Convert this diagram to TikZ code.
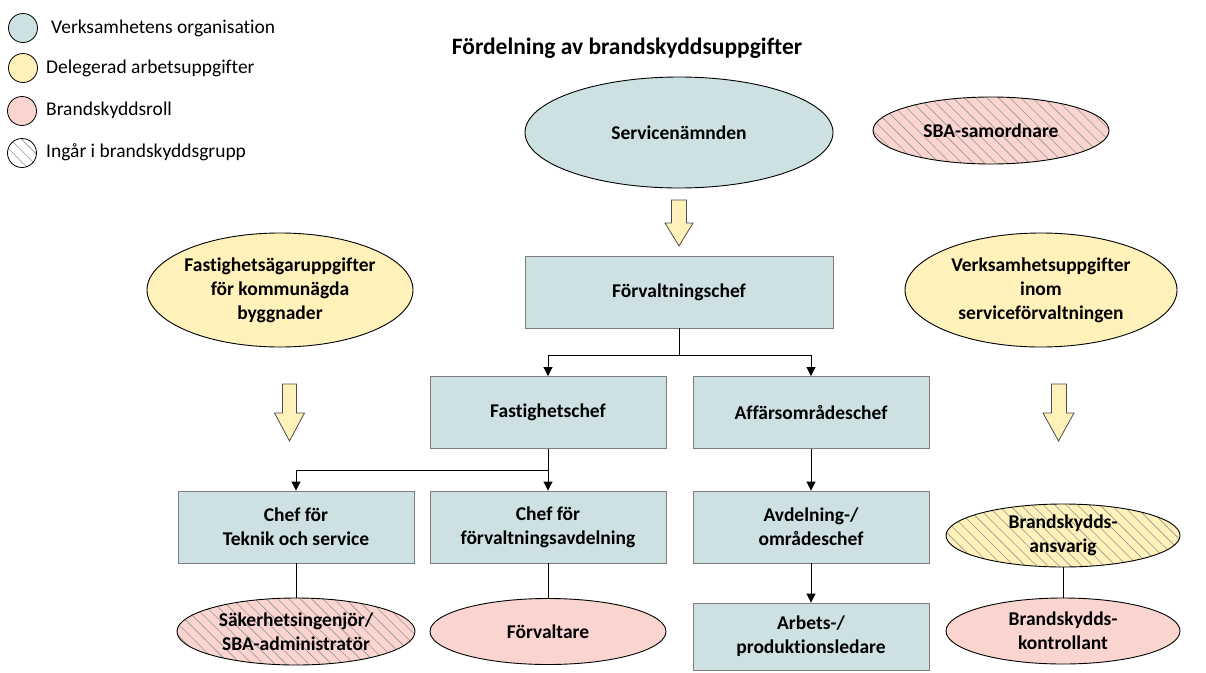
\documentclass[tikz,border=0pt]{standalone}
\usepackage{fontspec}
\setmainfont{Carlito}[Ligatures={NoCommon}]
\usetikzlibrary{shapes.geometric,arrows.meta,patterns.meta}
\definecolor{orgblue}{RGB}{205,225,226}
\definecolor{delyellow}{RGB}{255,241,186}
\definecolor{rolepink}{RGB}{250,213,208}
\definecolor{boxborder}{RGB}{125,125,125}
\definecolor{hatchgray}{RGB}{150,150,150}
\begin{document}
\begin{tikzpicture}[x=1pt,y=-1pt,
  nodefont/.style={font=\bfseries\fontsize{19.5}{24}\selectfont},
  orgbox/.style={rectangle,draw=boxborder,line width=0.9pt,fill=orgblue,
    inner sep=0pt,minimum height=72pt,align=center,nodefont},
  ell/.style={ellipse,draw=black,line width=0.9pt,inner sep=0pt},
  ellorg/.style={ell,fill=orgblue},
  elldel/.style={ell,fill=delyellow},
  ellrole/.style={ell,fill=rolepink},
  hatched/.style={pattern={Lines[angle=-45,distance=8pt,line width=0.6pt]},pattern color=hatchgray},
  ellabel/.style={label={[nodefont,align=center,inner sep=0pt]center:#1}},
  conn/.style={draw=black,line width=0.9pt},
  arr/.style={conn,-{Triangle[length=9pt,width=9pt]}},
  barrow/.style={draw=black!70,line width=0.8pt,fill=delyellow,line join=miter},
  legcirc/.style={circle,draw=black,line width=0.8pt,minimum size=29pt,inner sep=0pt},
  legtext/.style={anchor=west,inner sep=0pt,font=\fontsize{19.5}{24}\selectfont}
]
\useasboundingbox (0,0) rectangle (1206,672);

% legend
\node[legcirc,fill=orgblue] (lc1) at (23,28) {};
\node[legcirc,fill=delyellow] (lc2) at (23,68) {};
\node[legcirc,fill=rolepink] (lc3) at (22,111) {};
\node[legcirc,fill=white,hatched] (lc4) at (22,153) {};
\node[legtext] (lt1) at (51,28) {Verksamhetens organisation};
\node[legtext] (lt2) at (46,68) {Delegerad arbetsuppgifter};
\node[legtext] (lt3) at (46,110) {Brandskyddsroll};
\node[legtext] (lt4) at (46,152) {Ingår i brandskyddsgrupp};

% title
\node[font=\bfseries\fontsize{23.5}{28}\selectfont,inner sep=0pt] (title) at (627,48) {Fördelning av brandskyddsuppgifter};

% top
\node[ellorg,minimum width=308pt,minimum height=111pt,ellabel={Servicenämnden}] (serv) at (679,132.5) {};
\node[ellrole,preaction={fill=rolepink},hatched,minimum width=236pt,minimum height=67pt,ellabel={SBA-samordnare}] (sbas) at (991,130.5) {};

\draw[barrow] (671.5,200) -- (686.5,200) -- (686.5,223) -- (693,223) -- (679,246) -- (665,223) -- (671.5,223) -- cycle;

\node[orgbox,minimum width=308pt] (fc) at (679,292) {Förvaltningschef};

\node[elldel,minimum width=266pt,minimum height=114pt,ellabel={Fastighetsägaruppgifter\\för kommunägda\\byggnader}] (fastupp) at (280,290) {};
\node[elldel,minimum width=272pt,minimum height=114pt,ellabel={Verksamhetsuppgifter\\inom\\serviceförvaltningen}] (verkupp) at (1041,290) {};

\draw[barrow] (282.5,384) -- (296.5,384) -- (296.5,413) -- (304.5,413) -- (289.5,441) -- (274.5,413) -- (282.5,413) -- cycle;
\draw[barrow] (1051.5,384) -- (1066.5,384) -- (1066.5,413) -- (1074,413) -- (1058.5,441) -- (1043,413) -- (1051.5,413) -- cycle;

% second level
\node[orgbox,minimum width=236pt] (fast) at (548,412.5) {Fastighetschef};
\node[orgbox,minimum width=236pt] (aff) at (811,412.5) {Affärsområdeschef};

% third level
\node[orgbox,minimum width=236pt] (ctek) at (296,527) {Chef för\\Teknik och service};
\node[orgbox,minimum width=236pt] (cforv) at (548,527) {Chef för\\förvaltningsavdelning};
\node[orgbox,minimum width=236pt] (avd) at (811,527) {Avdelning-/\\områdeschef};
\node[ellrole,preaction={fill=delyellow},fill=delyellow,hatched,minimum width=234pt,minimum height=63pt,ellabel={Brandskydds-\\ansvarig}] (ansv) at (1063,535.5) {};

% bottom level
\node[ellrole,preaction={fill=rolepink},hatched,minimum width=238pt,minimum height=67pt,ellabel={Säkerhetsingenjör/\\SBA-administratör}] (sak) at (296,631.5) {};
\node[ellrole,minimum width=236pt,minimum height=66pt,ellabel={Förvaltare}] (forv) at (548,631.5) {};
\node[orgbox,minimum width=236pt,minimum height=67pt] (arb) at (811,636.5) {Arbets-/\\produktionsledare};
\node[ellrole,minimum width=234pt,minimum height=66pt,ellabel={Brandskydds-\\kontrollant}] (kontr) at (1063,631) {};

% connectors
\coordinate (j1) at (679,355);
\coordinate (j2) at (548,470);
\draw[conn] (fc.south) -- (j1);
\draw[arr] (j1) -| (fast.north);
\draw[arr] (j1) -| (aff.north);
\draw[arr] (fast.south) -- (cforv.north);
\draw[arr] (j2) -| (ctek.north);
\draw[arr] (aff.south) -- (avd.north);
\draw[arr] (avd.south) -- (arb.north);
\draw[conn] (ctek.south) -- (sak.north);
\draw[conn] (cforv.south) -- (forv.north);
\draw[conn] (ansv.south) -- (kontr.north);
\end{tikzpicture}
\end{document}
